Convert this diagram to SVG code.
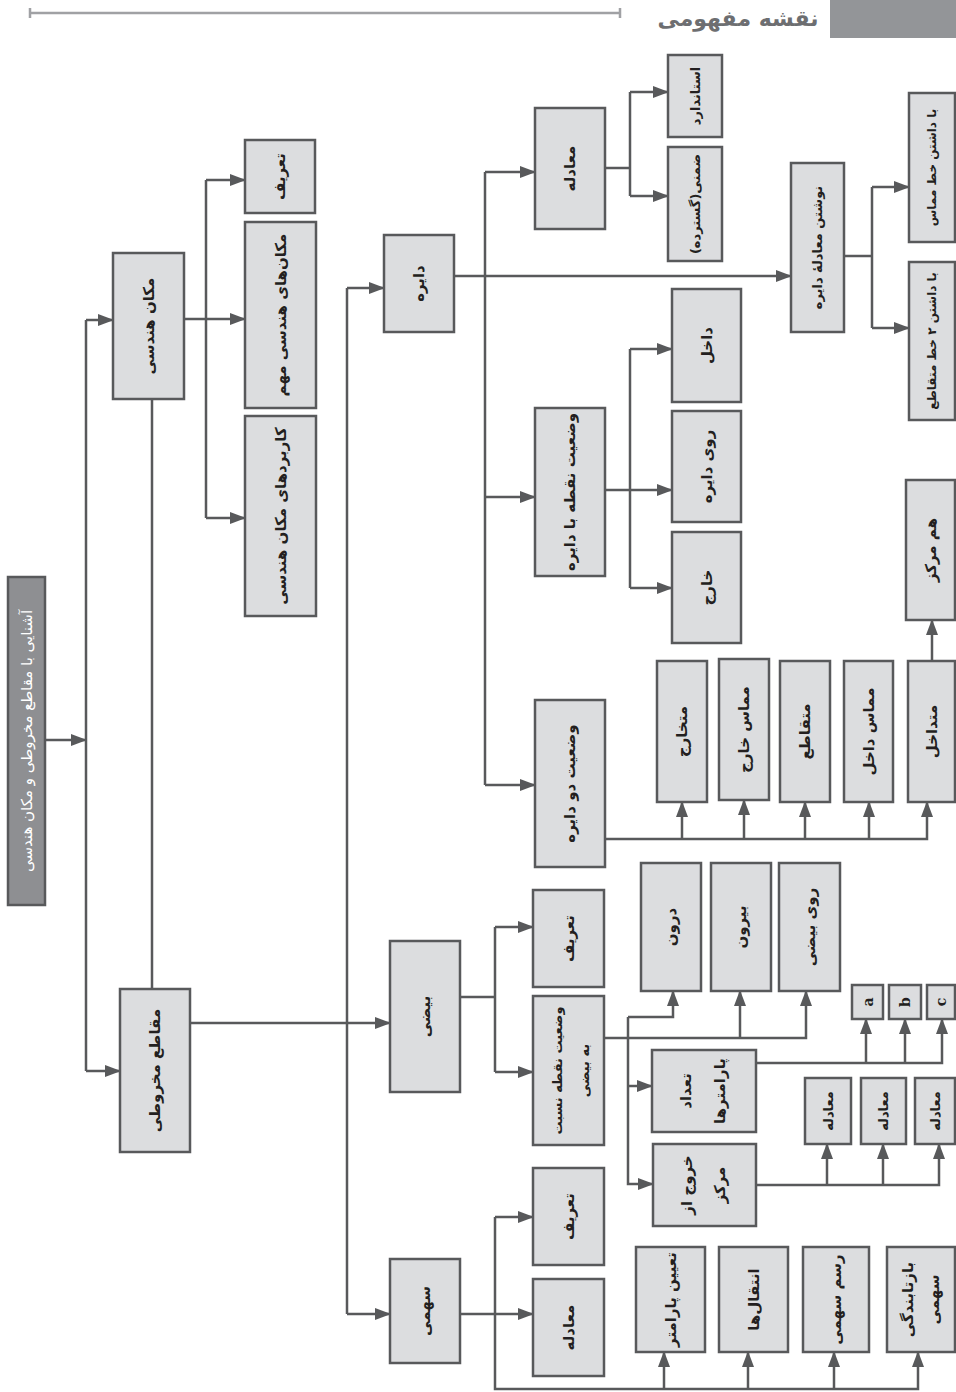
<svg xmlns="http://www.w3.org/2000/svg" width="956" height="1392" viewBox="0 0 956 1392">
<defs>
<marker id="ah" markerUnits="userSpaceOnUse" markerWidth="16" markerHeight="12" refX="15" refY="6" orient="auto"><path d="M0,0 L16,6 L0,12 z" fill="#58595b"/></marker>
</defs>
<style>
.box{fill:#dcdddf;stroke:#58595b;stroke-width:2.5}
.root{fill:#8e8f92;stroke:#58595b;stroke-width:2.5}
.ln{fill:none;stroke:#58595b;stroke-width:2.5}
.ar{marker-end:url(#ah)}
.t{font-family:"DejaVu Sans",sans-serif;font-weight:bold;font-size:15px;fill:#231f20;text-anchor:middle;dominant-baseline:central}
.sm{font-size:13px}
.xs{font-size:12px}
.rt{font-family:"DejaVu Sans",sans-serif;font-size:15px;fill:#ffffff;text-anchor:middle;dominant-baseline:central}
.lt{font-family:"DejaVu Serif",serif;font-weight:bold;font-size:14px;fill:#231f20;text-anchor:middle;dominant-baseline:central}
</style>
<rect width="956" height="1392" fill="#ffffff"/>
<g id="header">
<rect x="830" y="0" width="126" height="38" fill="#939598"/>
<text x="738" y="18" font-family="DejaVu Sans, sans-serif" font-weight="bold" font-size="22" fill="#6d6e71" text-anchor="middle" dominant-baseline="central">نقشه مفهومی</text>
<path d="M30,13 H620 M30,8 V18 M620,8 V18" fill="none" stroke="#a0a1a4" stroke-width="2.5"/>
</g>
<g id="connectors">
<path class="ln ar" d="M45,740 H86"/>
<path class="ln" d="M86,320 V1071"/>
<path class="ln ar" d="M86,320 H113"/>
<path class="ln ar" d="M86,1071 H120"/>
<path class="ln" d="M152,399 V989"/>
<path class="ln" d="M184,319 H206 M206,180 V518"/>
<path class="ln ar" d="M206,180 H245"/>
<path class="ln ar" d="M206,319 H245"/>
<path class="ln ar" d="M206,518 H245"/>
<path class="ln ar" d="M190,1023 H390"/>
<path class="ln" d="M347,288 V1314"/>
<path class="ln ar" d="M347,288 H384"/>
<path class="ln ar" d="M347,1314 H390"/>
<path class="ln ar" d="M454,276 H791"/>
<path class="ln" d="M485,172 V785"/>
<path class="ln ar" d="M485,172 H535"/>
<path class="ln ar" d="M485,497 H535"/>
<path class="ln ar" d="M485,785 H535"/>
<path class="ln" d="M605,168 H630 M630,92 V196"/>
<path class="ln ar" d="M630,92 H668"/>
<path class="ln ar" d="M630,196 H668"/>
<path class="ln" d="M844,256 H872 M872,187 V328"/>
<path class="ln ar" d="M872,187 H909"/>
<path class="ln ar" d="M872,328 H909"/>
<path class="ln ar" d="M605,490 H672"/>
<path class="ln" d="M630,349 V588"/>
<path class="ln ar" d="M630,349 H672"/>
<path class="ln ar" d="M630,588 H672"/>
<path class="ln ar" d="M605,839 H927 V802"/>
<path class="ln ar" d="M682,839 V802"/>
<path class="ln ar" d="M744,839 V800"/>
<path class="ln ar" d="M805,839 V802"/>
<path class="ln ar" d="M869,839 V802"/>
<path class="ln ar" d="M932,661 V620"/>
<path class="ln" d="M460,997 H495 M495,927 V1072"/>
<path class="ln ar" d="M495,927 H533"/>
<path class="ln ar" d="M495,1072 H533"/>
<path class="ln ar" d="M604,1038 H806 V991"/>
<path class="ln ar" d="M740,1038 V991"/>
<path class="ln ar" d="M628,1017 H673 V991"/>
<path class="ln ar" d="M628,1017 V1184 H653"/>
<path class="ln ar" d="M628,1086 H652"/>
<path class="ln ar" d="M756,1063 H942 V1019"/>
<path class="ln ar" d="M866,1063 V1019"/>
<path class="ln ar" d="M905,1063 V1019"/>
<path class="ln ar" d="M756,1185 H939 V1144"/>
<path class="ln ar" d="M827,1185 V1144"/>
<path class="ln ar" d="M883,1185 V1144"/>
<path class="ln ar" d="M460,1314 H533"/>
<path class="ln ar" d="M495,1217 V1389 H918 V1352"/>
<path class="ln ar" d="M495,1217 H533"/>
<path class="ln ar" d="M664,1389 V1352"/>
<path class="ln ar" d="M748,1389 V1352"/>
<path class="ln ar" d="M834,1389 V1352"/>
</g>
<g id="n-root"><rect class="root" x="8" y="577" width="37" height="328"/><text class="rt" x="26.5" y="741" transform="rotate(-90 26.5 741)">آشنایی با مقاطع مخروطی و مکان هندسی</text></g>
<g id="n-makan"><rect class="box" x="113" y="253" width="71" height="146"/><text class="t" x="148.5" y="326" transform="rotate(-90 148.5 326)">مکان هندسی</text></g>
<g id="n-maghate"><rect class="box" x="120" y="989" width="70" height="163"/><text class="t" x="155" y="1070.5" transform="rotate(-90 155 1070.5)">مقاطع مخروطی</text></g>
<g id="n-tarif1"><rect class="box" x="245" y="140" width="70" height="73"/><text class="t" x="280" y="176.5" transform="rotate(-90 280 176.5)">تعریف</text></g>
<g id="n-makanha"><rect class="box" x="245" y="222" width="71" height="186"/><text class="t" x="280.5" y="315" transform="rotate(-90 280.5 315)">مکان‌های هندسی مهم</text></g>
<g id="n-karbord"><rect class="box" x="245" y="416" width="71" height="200"/><text class="t" x="280.5" y="516" transform="rotate(-90 280.5 516)">کاربردهای مکان هندسی</text></g>
<g id="n-dayere"><rect class="box" x="384" y="235" width="70" height="97"/><text class="t" x="419" y="283.5" transform="rotate(-90 419 283.5)">دایره</text></g>
<g id="n-beyzi"><rect class="box" x="390" y="941" width="70" height="151"/><text class="t" x="425" y="1016.5" transform="rotate(-90 425 1016.5)">بیضی</text></g>
<g id="n-sahmi"><rect class="box" x="390" y="1259" width="70" height="104"/><text class="t" x="425" y="1311" transform="rotate(-90 425 1311)">سهمی</text></g>
<g id="n-moadele1"><rect class="box" x="535" y="108" width="70" height="121"/><text class="t" x="570" y="168.5" transform="rotate(-90 570 168.5)">معادله</text></g>
<g id="n-noghte-dayere"><rect class="box" x="535" y="408" width="70" height="168"/><text class="t" x="570" y="492" transform="rotate(-90 570 492)">وضعیت نقطه با دایره</text></g>
<g id="n-do-dayere"><rect class="box" x="535" y="700" width="70" height="167"/><text class="t" x="570" y="783.5" transform="rotate(-90 570 783.5)">وضعیت دو دایره</text></g>
<g id="n-standard"><rect class="box" x="668" y="55" width="54" height="82"/><text class="t sm" x="695" y="96" transform="rotate(-90 695 96)">استاندارد</text></g>
<g id="n-zemni"><rect class="box" x="668" y="147" width="54" height="114"/><text class="t sm" x="695" y="204" transform="rotate(-90 695 204)">ضمنی(گسترده)</text></g>
<g id="n-neveshtan"><rect class="box" x="791" y="163" width="53" height="169"/><text class="t sm" x="817.5" y="247.5" transform="rotate(-90 817.5 247.5)">نوشتن معادلهٔ دایره</text></g>
<g id="n-momas"><rect class="box" x="909" y="93" width="46" height="149"/><text class="t xs" x="932" y="167.5" transform="rotate(-90 932 167.5)">با داشتن خط مماس</text></g>
<g id="n-do-khat"><rect class="box" x="909" y="262" width="46" height="158"/><text class="t xs" x="932" y="341" transform="rotate(-90 932 341)">با داشتن ۲ خط متقاطع</text></g>
<g id="n-dakhel"><rect class="box" x="672" y="289" width="69" height="113"/><text class="t" x="706.5" y="345.5" transform="rotate(-90 706.5 345.5)">داخل</text></g>
<g id="n-ruye-dayere"><rect class="box" x="672" y="411" width="69" height="111"/><text class="t" x="706.5" y="466.5" transform="rotate(-90 706.5 466.5)">روی دایره</text></g>
<g id="n-kharej"><rect class="box" x="672" y="532" width="69" height="111"/><text class="t" x="706.5" y="587.5" transform="rotate(-90 706.5 587.5)">خارج</text></g>
<g id="n-hammarkaz"><rect class="box" x="906" y="480" width="49" height="140"/><text class="t" x="930.5" y="550" transform="rotate(-90 930.5 550)">هم مرکز</text></g>
<g id="n-motekharej"><rect class="box" x="657" y="661" width="50" height="141"/><text class="t" x="682" y="731.5" transform="rotate(-90 682 731.5)">متخارج</text></g>
<g id="n-momas-kharej"><rect class="box" x="719" y="659" width="50" height="141"/><text class="t" x="744" y="729.5" transform="rotate(-90 744 729.5)">مماس خارج</text></g>
<g id="n-motaghate"><rect class="box" x="780" y="661" width="50" height="141"/><text class="t" x="805" y="731.5" transform="rotate(-90 805 731.5)">متقاطع</text></g>
<g id="n-momas-dakhel"><rect class="box" x="844" y="661" width="49" height="141"/><text class="t" x="868.5" y="731.5" transform="rotate(-90 868.5 731.5)">مماس داخل</text></g>
<g id="n-motedakhel"><rect class="box" x="908" y="661" width="47" height="141"/><text class="t" x="931.5" y="731.5" transform="rotate(-90 931.5 731.5)">متداخل</text></g>
<g id="n-tarif2"><rect class="box" x="533" y="890" width="71" height="97"/><text class="t" x="568.5" y="938.5" transform="rotate(-90 568.5 938.5)">تعریف</text></g>
<g id="n-noghte-beyzi"><rect class="box" x="533" y="996" width="71" height="149"/><text class="t sm" x="557" y="1070.5" transform="rotate(-90 557 1070.5)">وضعیت نقطه نسبت</text><text class="t sm" x="584" y="1070.5" transform="rotate(-90 584 1070.5)">به بیضی</text></g>
<g id="n-darun"><rect class="box" x="641" y="863" width="60" height="128"/><text class="t" x="671" y="927" transform="rotate(-90 671 927)">درون</text></g>
<g id="n-birun"><rect class="box" x="711" y="863" width="60" height="128"/><text class="t" x="741" y="927" transform="rotate(-90 741 927)">بیرون</text></g>
<g id="n-ruye-beyzi"><rect class="box" x="779" y="863" width="61" height="128"/><text class="t" x="809.5" y="927" transform="rotate(-90 809.5 927)">روی بیضی</text></g>
<g id="n-a"><rect class="box" x="852" y="985" width="31" height="34"/><text class="lt" x="867.5" y="1002" transform="rotate(-90 867.5 1002)">a</text></g>
<g id="n-b"><rect class="box" x="889" y="985" width="32" height="34"/><text class="lt" x="905" y="1002" transform="rotate(-90 905 1002)">b</text></g>
<g id="n-c"><rect class="box" x="927" y="985" width="28" height="34"/><text class="lt" x="941" y="1002" transform="rotate(-90 941 1002)">c</text></g>
<g id="n-tedad"><rect class="box" x="652" y="1050" width="104" height="82"/><text class="t" x="686" y="1091" transform="rotate(-90 686 1091)">تعداد</text><text class="t" x="720" y="1091" transform="rotate(-90 720 1091)">پارامترها</text></g>
<g id="n-khoruj"><rect class="box" x="653" y="1144" width="103" height="82"/><text class="t" x="687" y="1185" transform="rotate(-90 687 1185)">خروج از</text><text class="t" x="720" y="1185" transform="rotate(-90 720 1185)">مرکز</text></g>
<g id="n-moadele-e1"><rect class="box" x="805" y="1078" width="46" height="66"/><text class="t sm" x="828" y="1111" transform="rotate(-90 828 1111)">معادله</text></g>
<g id="n-moadele-e2"><rect class="box" x="861" y="1078" width="45" height="66"/><text class="t sm" x="883.5" y="1111" transform="rotate(-90 883.5 1111)">معادله</text></g>
<g id="n-moadele-e3"><rect class="box" x="915" y="1078" width="40" height="66"/><text class="t sm" x="935" y="1111" transform="rotate(-90 935 1111)">معادله</text></g>
<g id="n-tarif3"><rect class="box" x="533" y="1168" width="71" height="97"/><text class="t" x="568.5" y="1216.5" transform="rotate(-90 568.5 1216.5)">تعریف</text></g>
<g id="n-moadele3"><rect class="box" x="533" y="1279" width="71" height="97"/><text class="t" x="568.5" y="1327.5" transform="rotate(-90 568.5 1327.5)">معادله</text></g>
<g id="n-tayin"><rect class="box" x="636" y="1247" width="69" height="105"/><text class="t" x="670.5" y="1299.5" transform="rotate(-90 670.5 1299.5)">تعیین پارامتر</text></g>
<g id="n-enteghal"><rect class="box" x="719" y="1247" width="69" height="105"/><text class="t" x="753.5" y="1299.5" transform="rotate(-90 753.5 1299.5)">انتقال‌ها</text></g>
<g id="n-rasm"><rect class="box" x="803" y="1247" width="66" height="105"/><text class="t" x="836" y="1299.5" transform="rotate(-90 836 1299.5)">رسم سهمی</text></g>
<g id="n-baztab"><rect class="box" x="887" y="1247" width="68" height="105"/><text class="t" x="908" y="1299.5" transform="rotate(-90 908 1299.5)">بازتابندگی</text><text class="t" x="934" y="1299.5" transform="rotate(-90 934 1299.5)">سهمی</text></g>
</svg>
